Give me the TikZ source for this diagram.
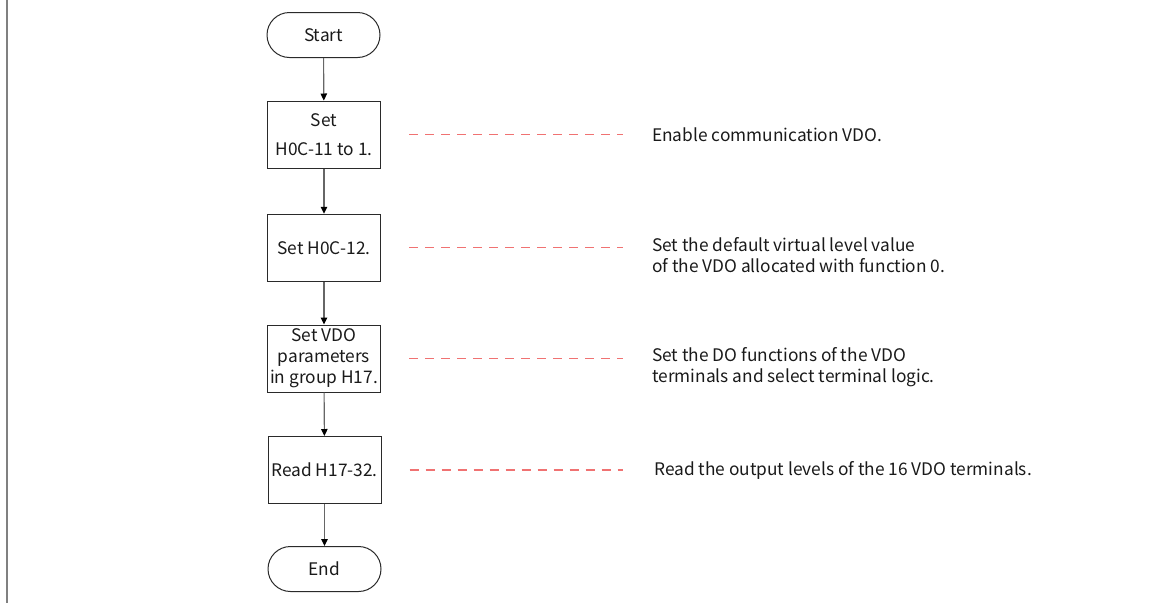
\documentclass[tikz,border=0pt]{standalone}
\usepackage{fontspec}
\setmainfont{Noto Sans CJK SC}
\usetikzlibrary{shapes.misc,arrows.meta}
\definecolor{dashred}{HTML}{F07272}
\definecolor{ink}{HTML}{1A1A1A}
\definecolor{edge}{HTML}{2A2A2A}
\definecolor{shaft}{HTML}{666666}
\begin{document}
\begin{tikzpicture}[x=1pt,y=-1pt,
  every node/.style={font=\fontsize{17.3}{20.8}\selectfont, text=ink},
  term/.style={draw=edge, line width=1pt, rounded rectangle, minimum width=113pt, minimum height=45pt, inner sep=0pt},
  procbox/.style={draw=edge, line width=1pt, rectangle, minimum width=113pt, minimum height=67pt, inner sep=0pt, align=center},
  desc/.style={inner sep=0pt, align=left, anchor=west},
  flow/.style={draw=shaft, line width=1.1pt, -{Triangle[length=7pt,width=6.5pt,color=black]}},
  dashline/.style={draw=dashred, line width=1.1pt, dash pattern=on 9pt off 7pt}
]
\useasboundingbox (0,0) rectangle (1160,603);
\draw[gray, line width=1.1pt] (7,0) -- (7,603);

\node[term] (start) at (323.5,35) {Start};
\node[procbox] (b1) at (324,134.5) {Set\\[8pt]H0C-11 to 1.};
\node[procbox] (b2) at (324,247.8) {Set H0C-12.};
\node[procbox] (b3) at (324,358.5) {Set VDO\\parameters\\in group H17.};
\node[procbox] (b4) at (324.5,470) {Read H17-32.};
\node[term] (end) at (324.5,569) {End};

\node[desc] (d1) at (652,135) {Enable communication VDO.};
\node[desc, anchor=north west] (d2) at (652,237.3) {Set the default virtual level value\\of the VDO allocated with function 0.};
\node[desc, anchor=north west] (d3) at (652,347.5) {Set the DO functions of the VDO\\terminals and select terminal logic.};
\node[desc] (d4) at (654,470) {Read the output levels of the 16 VDO terminals.};

\draw[flow] (start) -- (b1);
\draw[flow] (b1) -- (b2);
\draw[flow] (b2) -- (b3);
\draw[flow] (b3) -- (b4);
\draw[flow] (b4) -- (end);

\draw[dashline, shorten <=28pt, shorten >=29pt] (b1.east) -- (b1.east -| d1.west);
\draw[dashline, shorten <=28pt, shorten >=29pt] (b2.east) -- (b2.east -| d2.west);
\draw[dashline, shorten <=28pt, shorten >=29pt] (b3.east) -- (b3.east -| d3.west);
\draw[dashline, shorten <=28pt, shorten >=31pt] (b4.east) -- (b4.east -| d4.west);
\end{tikzpicture}
\end{document}
